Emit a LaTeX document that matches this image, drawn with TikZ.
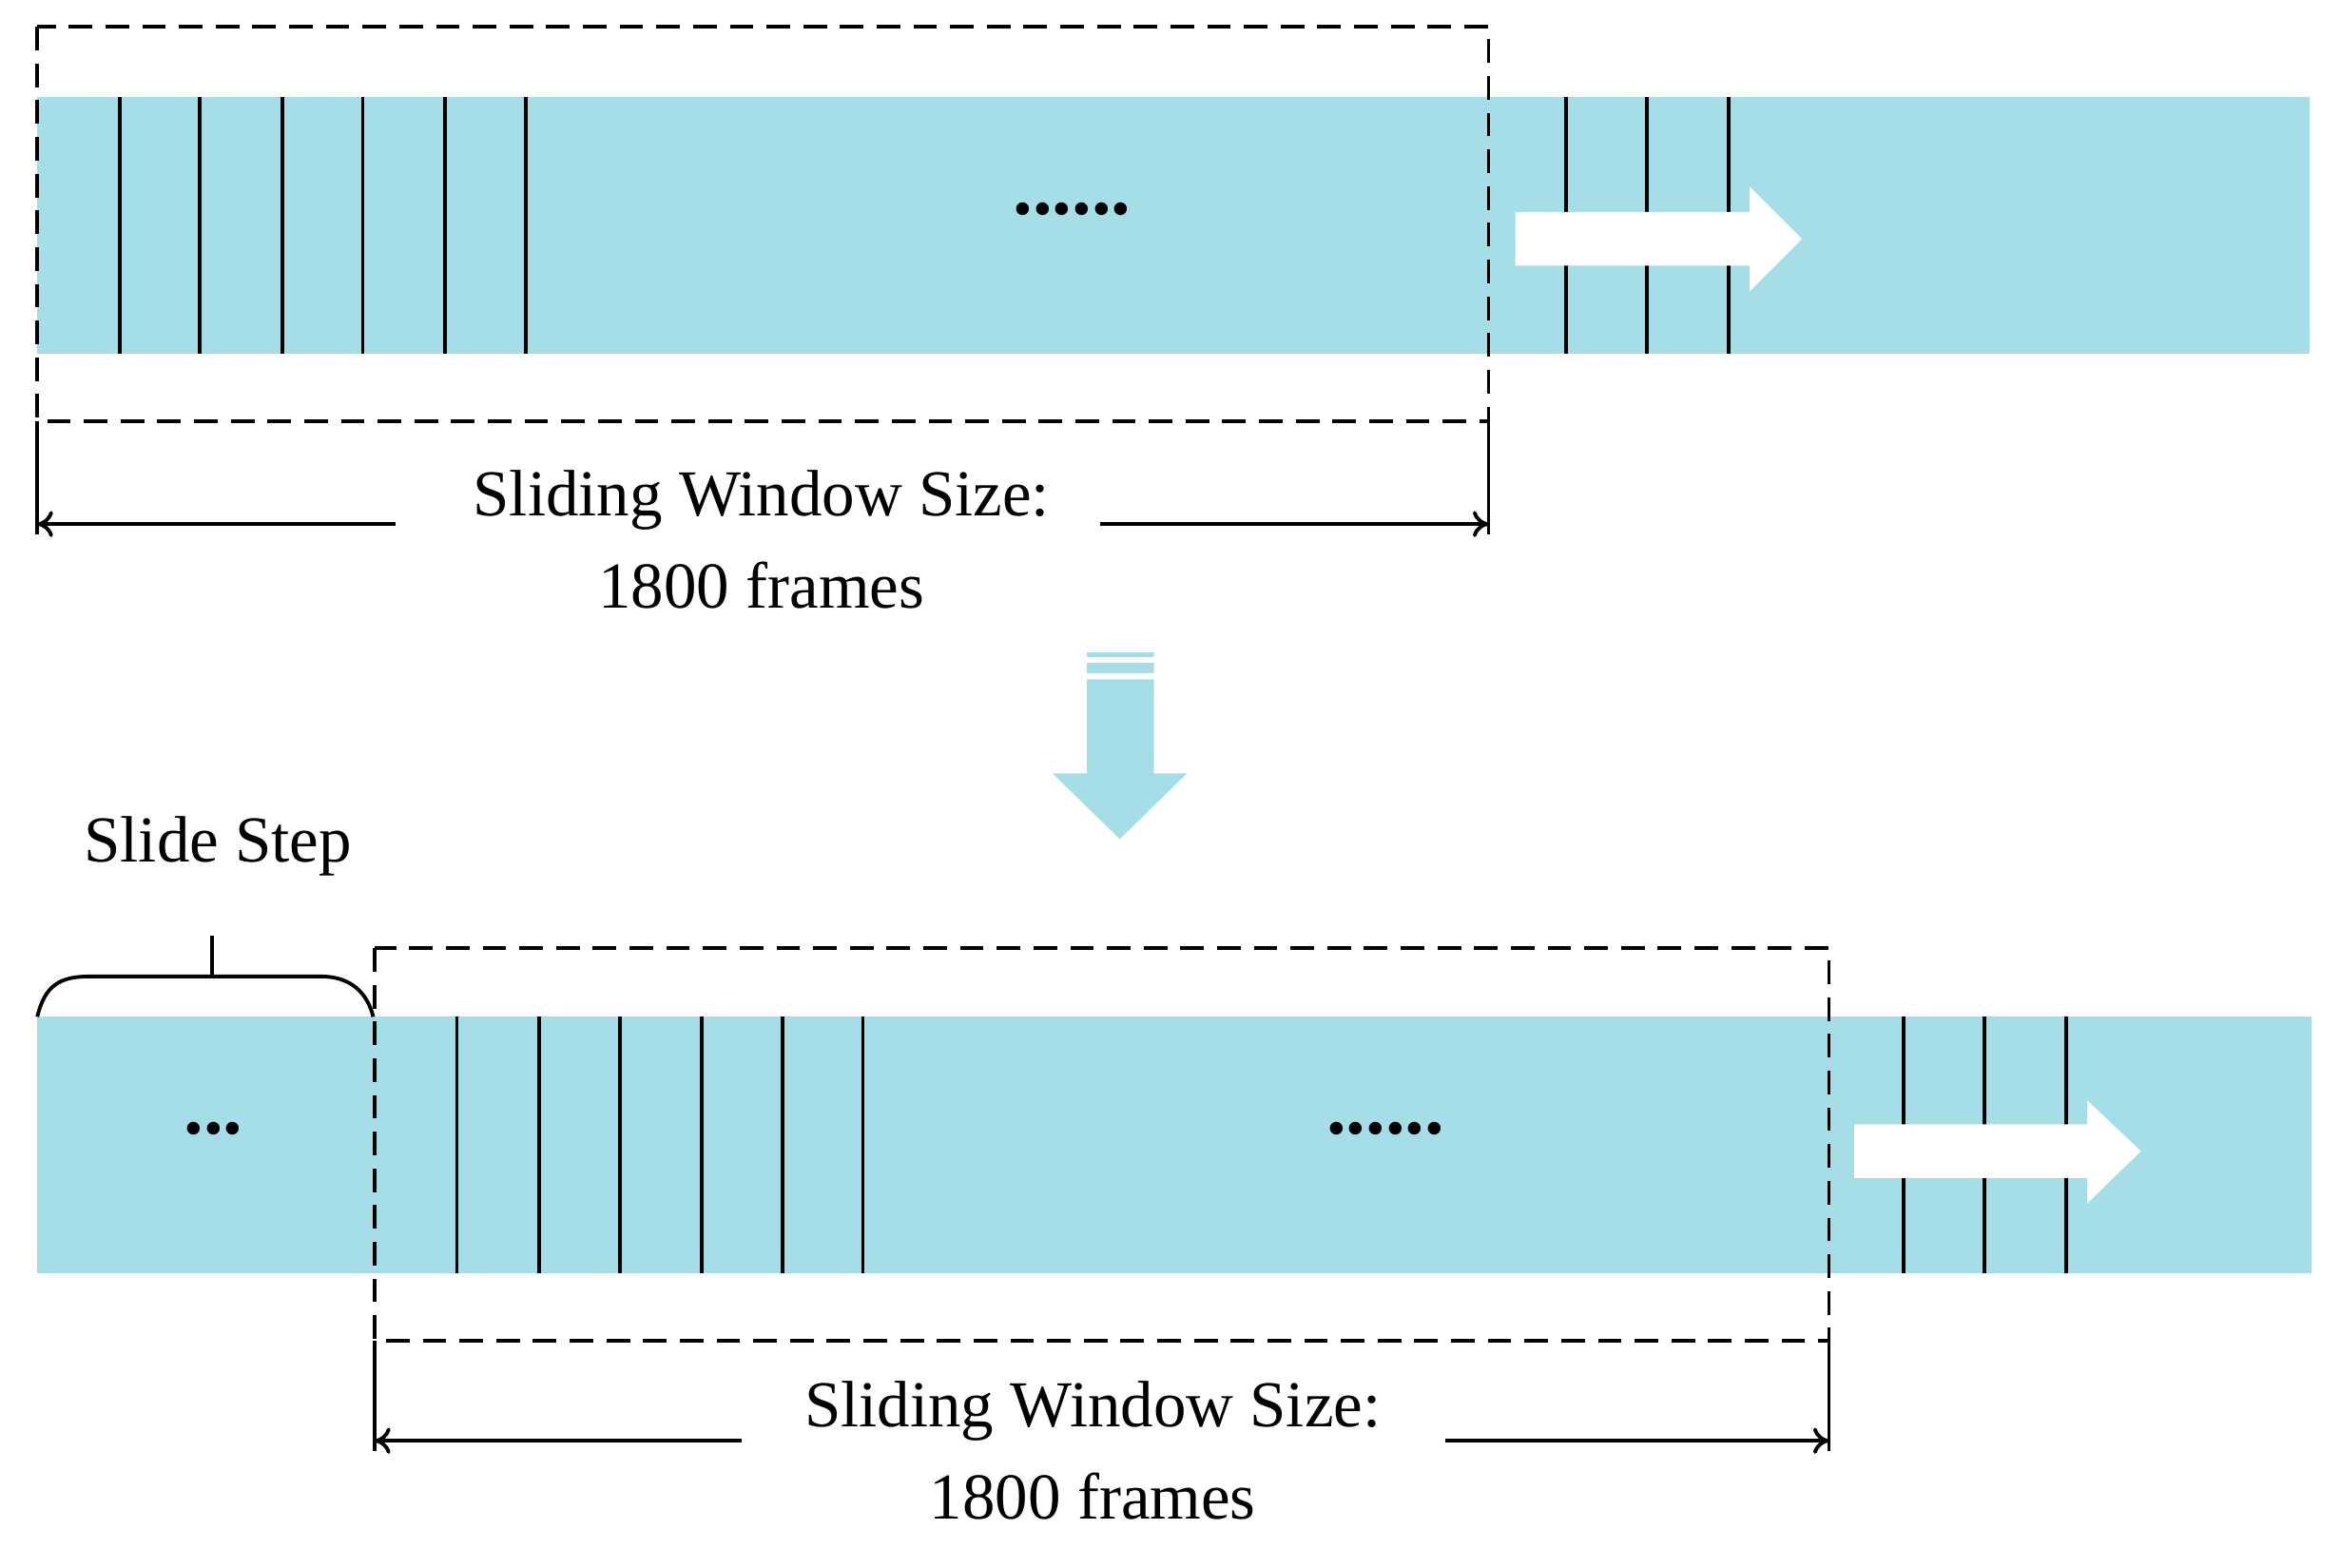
\documentclass[tikz,border=0pt]{standalone}
\usepackage{fontspec}
\setmainfont{Liberation Serif}
\usetikzlibrary{arrows.meta}
\definecolor{band}{HTML}{A6DEE8}
\begin{document}
\begin{tikzpicture}[x=0.02cm,y=-0.02cm,
 fl/.style={line width=1.4pt},
 dsh/.style={line width=1.4pt,dash pattern=on 9pt off 5pt},
 dim/.style={line width=1.4pt,-{To[length=6pt,width=10pt]}},
 txt/.style={font=\fontsize{25}{30}\selectfont,inner sep=0pt},
 dots/.style={font=\fontsize{30}{30}\selectfont\bfseries,inner sep=0pt}]
\useasboundingbox (0,0) rectangle (1568,1050);
% top
\fill[band] (25,65) rectangle (1547,237);
\foreach \x in {80,134,189,243,298,352,1049,1103,1158} \draw[fl] (\x,65)--(\x,237);
\node[dots] (d1) at (718,140) {......};
\fill[white] (1015,142) rectangle (1172,178) (1172,125)--(1207,160)--(1172,195)--cycle;
\draw[dsh] (25,18) rectangle (997,282);
\draw[fl] (25,282)--(25,358) (997,282)--(997,358);
\node[txt] (t1) at (510,335) {Sliding Window Size:};
\node[txt] (t2) at (510,392) {1800 frames};
\coordinate (a1) at (25,351); \coordinate (a2) at (997,351);
\coordinate (g1) at (265,351); \coordinate (g2) at (737,351);
\draw[dim] (g1)--(a1); \draw[dim] (g2)--(a2);
% down arrow
\fill[band] (728,437) rectangle (773,440) (728,444) rectangle (773,451) (728,455) rectangle (773,518) (705,518)--(795,518)--(750,562)--cycle;
% bottom
\fill[band] (25,681) rectangle (1548,853);
\foreach \x in {306,361,415,470,524,578,1275,1329,1384} \draw[fl] (\x,681)--(\x,853);
\node[dots] (d2) at (143,756) {...};
\node[dots] (d3) at (928,756) {......};
\fill[white] (1242,753) rectangle (1398,789) (1398,737)--(1434,771)--(1398,806)--cycle;
\draw[dsh] (251,635) rectangle (1225,898);
\draw[fl] (251,898)--(251,972) (1225,898)--(1225,972);
\node[txt] (t3) at (732,945) {Sliding Window Size:};
\node[txt] (t4) at (732,1002) {1800 frames};
\coordinate (b1) at (251,965); \coordinate (b2) at (1225,965);
\coordinate (h1) at (497,965); \coordinate (h2) at (968,965);
\draw[dim] (h1)--(b1); \draw[dim] (h2)--(b2);
% brace
\draw[fl] (25,681) .. controls (30,660) and (40,654) .. (60,654) -- (215,654) .. controls (235,654) and (246,665) .. (250,681);
\draw[fl] (142,654)--(142,627);
\node[txt] (s) at (146,567) {Slide Step};
\end{tikzpicture}
\end{document}
